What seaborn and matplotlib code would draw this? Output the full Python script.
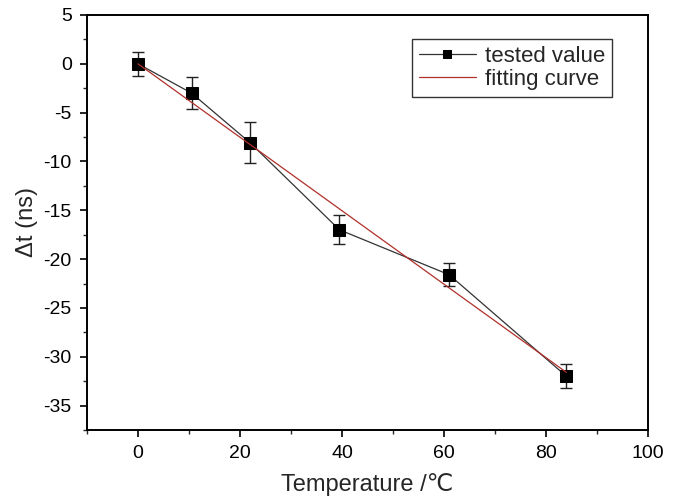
import matplotlib
matplotlib.use("Agg")
import matplotlib.pyplot as plt
import seaborn as sns
import pandas as pd
from matplotlib.ticker import MultipleLocator

temperature = [0, 10.5, 22, 39.5, 61, 84]
delta_t = [0.0, -3.0, -8.1, -17.0, -21.6, -32.0]
delta_t_err = [1.2, 1.6, 2.1, 1.5, 1.2, 1.25]
fit_x = [0, 84]
fit_y = [0.0, -31.6]

sns.set_theme(style="ticks")
plt.rcParams['font.family'] = ['Liberation Sans', 'DejaVu Sans']
plt.rcParams['axes.unicode_minus'] = False

fig = plt.figure(figsize=(6.76, 4.99), dpi=100)
ax = fig.add_axes([0.1287, 0.1383, 0.8299, 0.8317])

df = pd.DataFrame({"T": temperature, "dt": delta_t})
fdf = pd.DataFrame({"T": fit_x, "dt": fit_y})

ax.errorbar(temperature, delta_t, yerr=delta_t_err, fmt="none", ecolor="#222222",
            elinewidth=1.0, capsize=4, capthick=1.0, zorder=2)
sns.lineplot(data=df, x="T", y="dt", ax=ax, color="#333333", linewidth=0.9,
             marker="s", markersize=8, markerfacecolor="black", markeredgecolor="black",
             label="tested value", zorder=3)
sns.lineplot(data=fdf, x="T", y="dt", ax=ax, color="#b0302a", linewidth=0.9,
             label="fitting curve", zorder=4)

ax.set_xlim(-10, 100)
ax.set_ylim(-37.5, 5)
ax.xaxis.set_major_locator(MultipleLocator(20))
ax.xaxis.set_minor_locator(MultipleLocator(10))
ax.yaxis.set_major_locator(MultipleLocator(5))
ax.yaxis.set_minor_locator(MultipleLocator(2.5))
ax.tick_params(axis="both", which="major", direction="out", length=5, width=1.2,
               labelsize=14, colors="black", top=False, right=False, pad=6)
ax.tick_params(axis="both", which="minor", direction="out", length=3, width=1.0,
               top=False, right=False)
for s in ax.spines.values():
    s.set_linewidth(1.4)
    s.set_color("black")

ax.set_xlabel("Temperature /℃", fontsize=17, labelpad=8)
ax.set_ylabel("Δt (ns)", fontsize=17, labelpad=4)

leg = ax.legend(loc="upper right", bbox_to_anchor=(0.936, 0.942), borderaxespad=0,
                fontsize=16, frameon=True, fancybox=False, shadow=False,
                handlelength=2.6, markerscale=0.8,
                borderpad=0.3, labelspacing=0.1, handletextpad=0.4)
leg.get_frame().set_edgecolor("black")
leg.get_frame().set_linewidth(1.0)

fig.savefig("out.png", dpi=100)
